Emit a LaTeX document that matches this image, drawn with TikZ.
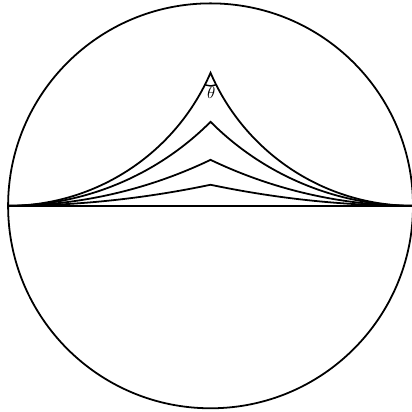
\documentclass[tikz,border=0pt]{standalone}
\usepackage{amsmath,amssymb}
\usetikzlibrary{calc}

\begin{document}
\begin{tikzpicture}[line width=1.5pt]
    \coordinate (O) at (0, 0);
    \def\R{6}
    \useasboundingbox (-6.24, -6.1) rectangle (5.97, 6.1);

    % Disk and diameter
    \draw (O) circle (\R);
    \draw (-\R, 0) -- (\R, 0);

    % Geodesics from the two ends of the diameter
    \foreach \h in {0.657, 0.415, 0.227, 0.104} {
        \pgfmathsetmacro{\rc}{(1+\h*\h)/(2*\h)}
        \pgfmathsetmacro{\ph}{atan(\rc-\h)}
        \draw (-\R, 0) arc[start angle=-90, end angle=-\ph, radius=\rc*\R]
            arc[start angle=\ph-180, end angle=-90, radius=\rc*\R];
    }

    % Angle at the top vertex
    \coordinate (A) at (0, 0.657*\R);
    \pgfmathsetmacro{\ta}{90-atan((1+0.657*0.657)/(2*0.657)-0.657)}
    \draw[line width=1.2pt] ($(A)+(180+\ta:0.39)$) arc[start angle=180+\ta, end angle=360-\ta, radius=0.39];
    \node[scale=1.4] (theta) at ($(A)+(0.02, -0.6)$) {$\theta$};
\end{tikzpicture}
\end{document}
